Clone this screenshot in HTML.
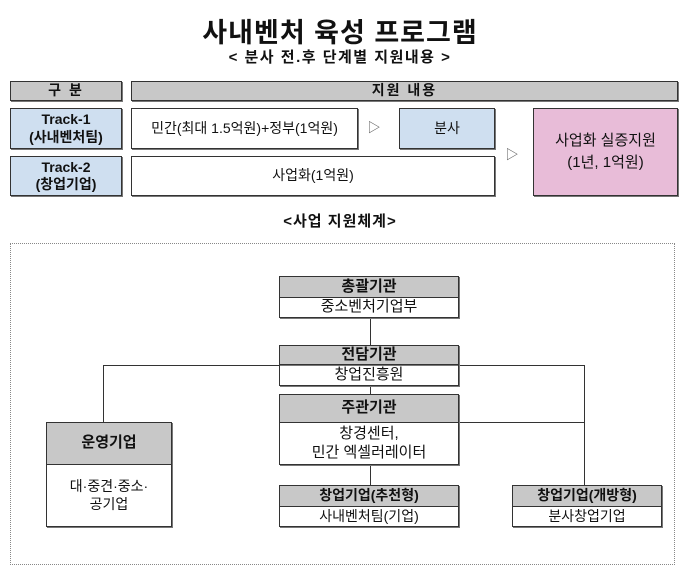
<!DOCTYPE html>
<html><head><meta charset="utf-8"><style>
body{margin:0;width:680px;height:585px;background:#fff;position:relative;font-family:"Liberation Sans","Noto Sans CJK KR",sans-serif;color:#111;overflow:hidden}
.a{position:absolute;box-sizing:border-box;display:flex;align-items:center;justify-content:center;text-align:center;line-height:1.25}
.b{border:1px solid #333;box-shadow:1px 1px 0 #777}
.g{background:#c8c8c8}
.l{background:#cfdff0}
.ln{position:absolute;background:#333}
.bold{font-weight:bold}
</style></head><body>
<div class="a bold" style="left:0;width:680px;top:17px;height:34px;font-size:27px;letter-spacing:1px">사내벤처 육성 프로그램</div>
<div class="a bold" style="left:0;width:680px;top:48px;height:20px;font-size:15px;letter-spacing:1.5px">&lt; 분사 전.후 단계별 지원내용 &gt;</div>

<div class="a b g bold" style="left:10px;top:81px;width:112px;height:20px;font-size:14px;letter-spacing:2px">구 분</div>
<div class="a b g bold" style="left:131px;top:81px;width:547px;height:20px;font-size:14px;letter-spacing:2px">지원 내용</div>
<div class="a b l bold" style="left:10px;top:108px;width:112px;height:41px;font-size:14px">Track-1<br>(사내벤처팀)</div>
<div class="a b" style="left:131px;top:108px;width:227px;height:41px;font-size:14px">민간(최대 1.5억원)+정부(1억원)</div>
<div class="a" style="left:364px;top:118px;width:20px;height:20px;font-size:13px;color:#555">▷</div>
<div class="a b l" style="left:399px;top:108px;width:96px;height:41px;font-size:14px">분사</div>
<div class="a b l bold" style="left:10px;top:156px;width:112px;height:40px;font-size:14px">Track-2<br>(창업기업)</div>
<div class="a b" style="left:131px;top:156px;width:364px;height:40px;font-size:14px">사업화(1억원)</div>
<div class="a" style="left:502px;top:145px;width:20px;height:20px;font-size:13px;color:#555">▷</div>
<div class="a b" style="left:533px;top:108px;width:145px;height:88px;font-size:15px;background:#e8bcd8;line-height:1.45">사업화 실증지원<br>(1년, 1억원)</div>

<div class="a bold" style="left:0;width:680px;top:212px;height:20px;font-size:15px;letter-spacing:1px">&lt;사업 지원체계&gt;</div>

<div style="position:absolute;left:10px;top:243px;width:665px;height:322px;border:1px dotted #888;box-sizing:border-box"></div>

<div class="ln" style="left:370px;top:317px;width:1px;height:28px"></div>
<div class="ln" style="left:103px;top:365px;width:482px;height:1px"></div>
<div class="ln" style="left:103px;top:365px;width:1px;height:57px"></div>
<div class="ln" style="left:584px;top:365px;width:1px;height:120px"></div>
<div class="ln" style="left:370px;top:386px;width:1px;height:8px"></div>
<div class="ln" style="left:458px;top:422px;width:127px;height:1px"></div>
<div class="ln" style="left:370px;top:464px;width:1px;height:21px"></div>

<div class="a b g bold" style="left:279px;top:276px;width:180px;height:22px;font-size:15px">총괄기관</div>
<div class="a b" style="left:279px;top:297px;width:180px;height:21px;font-size:15px;background:#fff">중소벤처기업부</div>
<div class="a b g bold" style="left:279px;top:345px;width:180px;height:20px;font-size:15px;background:#c8c8c8">전담기관</div>
<div class="a b" style="left:279px;top:364px;width:180px;height:22px;font-size:15px;background:transparent">창업진흥원</div>
<div class="a b g bold" style="left:279px;top:394px;width:180px;height:29px;font-size:15px">주관기관</div>
<div class="a b" style="left:279px;top:422px;width:180px;height:43px;font-size:15px;background:#fff">창경센터,<br>민간 엑셀러레이터</div>
<div class="a b g bold" style="left:46px;top:422px;width:126px;height:43px;font-size:15px">운영기업</div>
<div class="a b" style="left:46px;top:464px;width:126px;height:63px;font-size:14px;background:#fff">대·중견·중소·<br>공기업</div>
<div class="a b g bold" style="left:279px;top:485px;width:180px;height:22px;font-size:14px">창업기업(추천형)</div>
<div class="a b" style="left:279px;top:506px;width:180px;height:21px;font-size:14px;background:#fff">사내벤처팀(기업)</div>
<div class="a b g bold" style="left:512px;top:485px;width:150px;height:22px;font-size:14px">창업기업(개방형)</div>
<div class="a b" style="left:512px;top:506px;width:150px;height:21px;font-size:14px;background:#fff">분사창업기업</div>
</body></html>
